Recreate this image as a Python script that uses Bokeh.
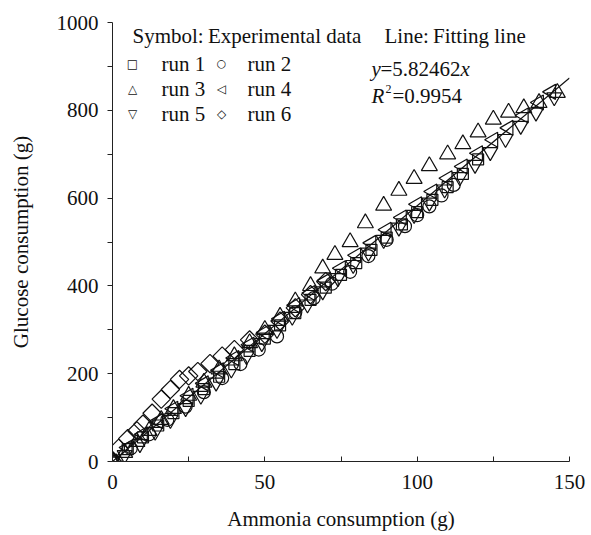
import math
from bokeh.plotting import figure
from bokeh.models import Range1d, FixedTicker, Label
from bokeh.embed import file_html
from bokeh.resources import INLINE

# ---------------- data ----------------
run1_x = [0, 5, 10, 15, 20, 25, 30, 35, 40, 45, 50, 55, 60, 65, 70, 75, 80, 85, 90, 95, 100, 105, 110, 115, 120]
run1_y = [0, 28, 55, 82, 110, 138, 165, 193, 222, 252, 280, 310, 338, 368, 396, 425, 452, 482, 510, 540, 568, 596, 625, 655, 688]

run2_x = [0, 6, 12, 18, 24, 30, 36, 42, 48, 54, 60, 66, 72, 78, 84, 90, 96, 100, 104, 108, 112]
run2_y = [0, 30, 62, 95, 125, 158, 190, 222, 255, 285, 340, 372, 405, 432, 468, 505, 536, 561, 581, 606, 630]

run3_x = [0, 4, 8, 12, 16, 20, 25, 30, 35, 40, 45, 50, 55, 60, 65, 69, 73, 78, 83, 89, 94, 99, 104, 110, 115, 120, 125, 130, 135, 140, 146]
run3_y = [0, 20, 45, 70, 95, 120, 150, 180, 210, 240, 270, 300, 330, 365, 400, 440, 471, 500, 543, 583, 617, 644, 673, 700, 723, 750, 779, 795, 805, 817, 840]

run4_x = [0, 5, 10, 15, 20, 25, 30, 35, 40, 45, 50, 55, 60, 65, 70, 75, 80, 85, 90, 95, 100, 105, 110, 115, 120, 125, 130, 135, 140, 144]
run4_y = [0, 32, 62, 92, 120, 150, 178, 208, 236, 266, 294, 325, 356, 384, 412, 440, 470, 498, 528, 556, 586, 615, 645, 672, 702, 733, 760, 788, 818, 842]

run5_x = [0, 4, 9, 14, 19, 24, 29, 34, 39, 44, 49, 54, 59, 64, 69, 74, 79, 84, 89, 94, 99, 104, 109, 114, 119, 124, 129, 134, 139, 145]
run5_y = [0, 15, 40, 68, 95, 122, 150, 180, 210, 240, 270, 300, 330, 358, 388, 418, 448, 476, 505, 533, 562, 590, 620, 648, 676, 705, 735, 765, 795, 830]

run6_x = [0, 2, 5, 8, 10, 13, 16, 19, 22, 25, 28, 32, 36, 40, 45, 50, 55, 60, 65, 70]
run6_y = [0, 30, 52, 70, 85, 110, 142, 164, 187, 195, 205, 223, 240, 255, 277, 290, 320, 350, 380, 410]

run_names = ["run 1", "run 2", "run 3", "run 4", "run 5", "run 6"]
run_symbols = ["\u25a1", "\u25cb", "\u25b3", "\u25c1", "\u25bd", "\u25c7"]

fit_slope = 5.82462
fit_x = [0, 150]
fit_y = [fit_slope * v for v in fit_x]

x_major = [0, 50, 100, 150]
x_minor = [25, 75, 125]
y_major = [0, 200, 400, 600, 800, 1000]
y_minor = [100, 300, 500, 700, 900]

# ---------------- figure ----------------
FONT = "Liberation Serif"
INK = "#111111"
p = figure(width=588, height=533, output_backend="svg", toolbar_location=None,
           x_range=Range1d(0, 150), y_range=Range1d(0, 1000),
           min_border_left=112, min_border_right=19, min_border_top=22, min_border_bottom=67)
p.outline_line_color = None
p.grid.visible = False

p.xaxis.ticker = FixedTicker(ticks=x_major, minor_ticks=x_minor)
p.yaxis.ticker = FixedTicker(ticks=y_major, minor_ticks=y_minor)
for ax in (p.xaxis[0], p.yaxis[0]):
    ax.axis_line_color = "#222222"
    ax.major_tick_line_color = "#222222"
    ax.minor_tick_line_color = "#222222"
    ax.major_label_text_font = FONT
    ax.major_label_text_font_size = "21px"
    ax.major_label_text_color = INK
    ax.axis_label_text_font = FONT
    ax.axis_label_text_font_size = "21px"
    ax.axis_label_text_font_style = "normal"
    ax.axis_label_text_color = INK

p.xaxis.major_tick_in = 5
p.xaxis.major_tick_out = 0
p.xaxis.minor_tick_in = 5
p.xaxis.minor_tick_out = 0
p.xaxis.major_label_standoff = 13
p.xaxis.axis_label = "Ammonia consumption (g)"
p.xaxis.axis_label_standoff = 15

p.yaxis.major_tick_in = 0
p.yaxis.major_tick_out = 5
p.yaxis.minor_tick_in = 0
p.yaxis.minor_tick_out = 5
p.yaxis.major_label_standoff = 9
p.yaxis.axis_label = "Glucose consumption (g)"
p.yaxis.axis_label_standoff = 21

# ---------------- data marks ----------------
common = dict(fill_color=None, line_color=INK, line_width=1.2)
p.scatter(run1_x, run1_y, marker="square", size=11, **common)
p.scatter(run2_x, run2_y, marker="circle", size=13, **common)
p.scatter(run3_x, run3_y, marker="triangle", size=16, **common)
p.scatter(run4_x, run4_y, marker="triangle", angle=math.pi / 2, size=15, **common)
p.scatter(run5_x, run5_y, marker="inverted_triangle", size=15, **common)
p.scatter(run6_x, run6_y, marker="square", angle=math.pi / 4, size=13, **common)

p.line(fit_x, fit_y, line_color=INK, line_width=1.2)

# ---------------- legend / annotations (screen units from frame bottom-left) ----------------
def lab(text, x, y, size="21px", style="normal", font=FONT, align="left"):
    p.add_layout(Label(x=x, y=y, x_units="screen", y_units="screen", text=text,
                       text_font=font, text_font_size=size, text_font_style=style,
                       text_color=INK, text_baseline="middle", text_align=align))

lab("Symbol:\u2009Experimental data", 20, 426)
sym_sizes = ["12px", "11px", "12px", "12px", "12px", "12px"]
for i, (name, sym) in enumerate(zip(run_names, run_symbols)):
    col, row = i % 2, i // 2
    ys = 398 - 25 * row
    lab(sym, 20 + 89 * col, ys, size=sym_sizes[i], font="DejaVu Sans", align="center")
    lab(name, 49 + 86 * col, ys)

lab("Line:\u2009Fitting line", 272, 426)
lab("y", 259, 393, style="italic")
lab("=5.82462", 268, 393)
lab("x", 348, 393, style="italic")
lab("R", 259, 366, style="italic")
lab("2", 273, 373, size="12px")
lab("=0.9954", 280, 366)

open("out.html", "w").write(file_html(p, INLINE))
